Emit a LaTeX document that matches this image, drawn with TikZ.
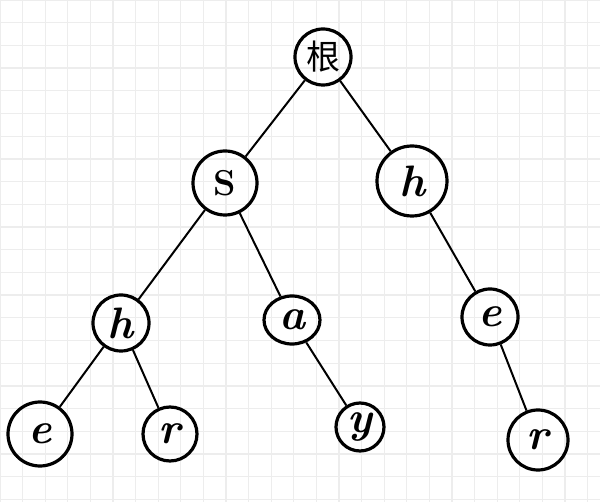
\documentclass[tikz,border=0pt]{standalone}
\usepackage{fontspec}
\usetikzlibrary{shapes.geometric}
\newfontfamily\cjk{Noto Sans CJK SC}
\begin{document}
\begin{tikzpicture}[x=1pt,y=-1pt,
  gridline/.style={draw=black!7, line width=1.3pt},
  tnode/.style={draw=black, circle, line width=3.2pt, inner sep=0pt, font=\fontsize{44}{44}\selectfont\bfseries\itshape},
  link/.style={draw=black, line width=2pt}]
\fill[white] (0,0) rectangle (600,502);
\useasboundingbox (0,0) rectangle (600,502);
\foreach \i in {0,...,26} \draw[gridline] (\i*22.6,0) -- (\i*22.6,502);
\foreach \j in {0,...,22} \draw[gridline] (0,\j*22.7) -- (600,\j*22.7);
\node[tnode, minimum size=56pt, font=\fontsize{34}{34}\selectfont\cjk] (root) at (323,57) {根};
\node[tnode, minimum size=64pt, font=\fontsize{36}{36}\selectfont\bfseries] (s) at (225,183) {S};
\node[tnode, minimum size=70pt] (h1) at (412,181) {h};
\node[tnode, minimum size=56pt] (h2) at (121,323) {h};
\node[tnode, ellipse, minimum width=56pt, minimum height=48pt] (a) at (292,320) {a};
\node[tnode, minimum size=56pt] (e1) at (490,317) {e};
\node[tnode, minimum size=64pt] (e2) at (40,434) {e};
\node[tnode, minimum size=54pt] (r1) at (170,434) {r};
\node[tnode, minimum size=48pt] (y) at (360,427) {y};
\node[tnode, minimum size=60pt] (r2) at (538,440) {r};
\draw[link] (root) -- (s);
\draw[link] (root) -- (h1);
\draw[link] (s) -- (h2);
\draw[link] (s) -- (a);
\draw[link] (h1) -- (e1);
\draw[link] (h2) -- (e2);
\draw[link] (h2) -- (r1);
\draw[link] (a) -- (y);
\draw[link] (e1) -- (r2);
\end{tikzpicture}
\end{document}
